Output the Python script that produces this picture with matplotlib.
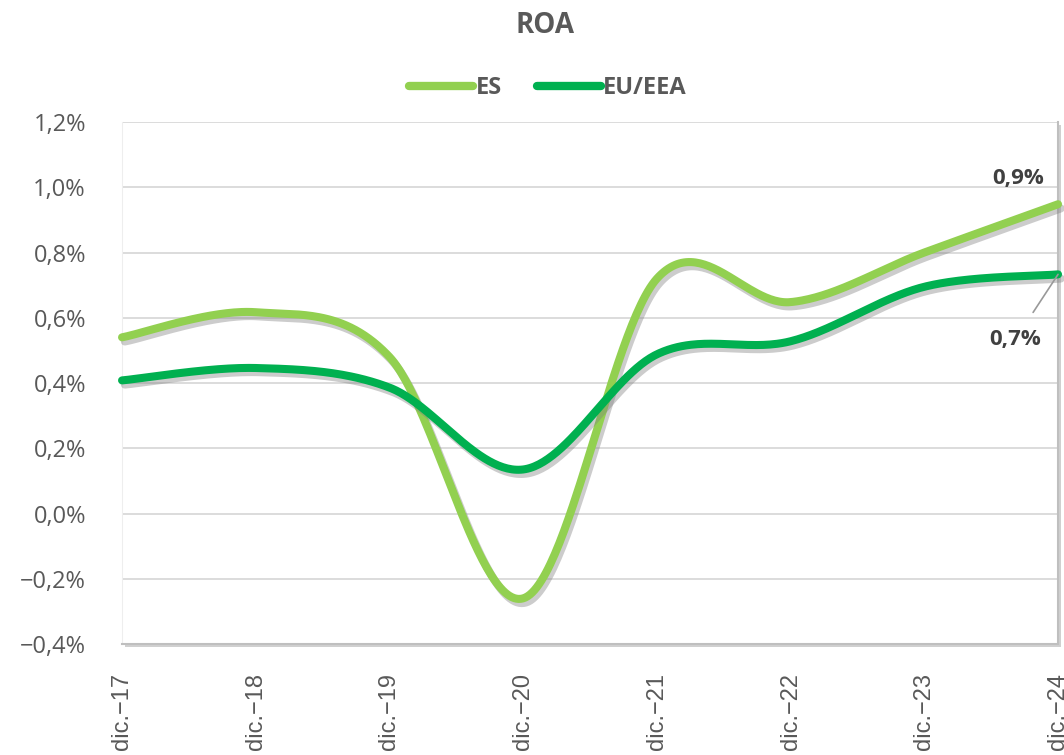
import matplotlib
matplotlib.use("Agg")
import matplotlib.pyplot as plt
import matplotlib.patheffects as pe
from matplotlib.lines import Line2D
from matplotlib.patches import Rectangle
import numpy as np

labels = ["dic.\u221217", "dic.\u221218", "dic.\u221219", "dic.\u221220",
          "dic.\u221221", "dic.\u221222", "dic.\u221223", "dic.\u221224"]
es = [0.54, 0.617, 0.48, -0.26, 0.72, 0.648, 0.80, 0.948]
eu = [0.408, 0.446, 0.386, 0.135, 0.488, 0.528, 0.695, 0.733]

grey = "#595959"
dark = "#404040"
c_es = "#92D050"
c_eu = "#00B050"


def smooth(y, n=60):
    # excel-like smoothed line (bezier through the points)
    y = np.asarray(y, float)
    x = np.arange(len(y), dtype=float)
    xs, ys = [], []
    for i in range(len(y) - 1):
        a = i - 1 if i > 0 else i
        b = i + 2 if i + 2 < len(y) else i + 1
        px = [x[i], x[i] + (x[i + 1] - x[a]) / 6, x[i + 1] - (x[b] - x[i]) / 6, x[i + 1]]
        py = [y[i], y[i] + (y[i + 1] - y[a]) / 6, y[i + 1] - (y[b] - y[i]) / 6, y[i + 1]]
        t = np.linspace(0, 1, n)
        k = [(1 - t) ** 3, 3 * (1 - t) ** 2 * t, 3 * (1 - t) * t ** 2, t ** 3]
        xs.append(sum(k[j] * px[j] for j in range(4)))
        ys.append(sum(k[j] * py[j] for j in range(4)))
    return np.concatenate(xs), np.concatenate(ys)


fig = plt.figure(figsize=(10.64, 7.55), dpi=100)
fig.patch.set_facecolor("white")
pos = [0.1147, 0.147, 0.8797, 0.6914]

# shadow of the plot area, drawn under the axes
sh = fig.add_axes([pos[0] + 0.0025, pos[1] - 0.004, pos[2], pos[3]])
sh.set_zorder(0)
sh.axis("off")
sh.add_patch(Rectangle((0, 0), 1, 1, transform=sh.transAxes, facecolor="#d0d0d0",
                       edgecolor="none"))

ax = fig.add_axes(pos)
ax.set_zorder(1)
ax.set_facecolor("white")

shadow = [pe.SimpleLineShadow(offset=(2, -3), shadow_color="#808080", alpha=0.4), pe.Normal()]
for vals, col in [(es, c_es), (eu, c_eu)]:
    sx, sy = smooth(vals)
    ax.plot(sx, sy, color=col, lw=5.8, solid_capstyle="round", zorder=3,
            path_effects=shadow, clip_on=False)

ax.set_xlim(0, len(labels) - 1)
ax.set_ylim(-0.4, 1.2)
yt = np.arange(-0.4, 1.21, 0.2)
ax.set_yticks(yt)
ax.set_yticklabels([("%.1f%%" % v).replace(".", ",").replace("-", "\u2212") for v in yt],
                   fontsize=17, color=grey, family="Open Sans")
ax.set_xticks(range(len(labels)))
ax.set_xticklabels(labels, rotation=90, fontsize=17, color=grey, family="Liberation Sans",
                   va="top")
ax.tick_params(length=0)
ax.tick_params(axis="y", pad=26)
ax.tick_params(axis="x", pad=21)
ax.grid(axis="y", color="#d9d9d9", lw=1.3)
ax.set_axisbelow(True)
ax.spines["top"].set_visible(False)
ax.spines["left"].set_color("#eeeeee")
ax.spines["right"].set_color("#bfbfbf")
ax.spines["bottom"].set_color("#bfbfbf")
ax.spines["right"].set_linewidth(1.5)
ax.spines["bottom"].set_linewidth(1.5)

# end labels
n = len(labels) - 1
ax.text(n - 0.30, es[-1] + 0.08, ("%.1f%%" % es[-1]).replace(".", ","), fontsize=16,
        fontweight="bold", color=dark, family="Open Sans", ha="center", va="center")
ax.annotate(("%.1f%%" % eu[-1]).replace(".", ","), xy=(n, eu[-1]), xytext=(n - 0.32, eu[-1] - 0.20),
            fontsize=16, fontweight="bold", color=dark, family="Open Sans",
            ha="center", va="center",
            arrowprops=dict(arrowstyle="-", color="#999999", lw=1.2, shrinkA=12, shrinkB=0))

fig.text(0.512, 0.966, "ROA", fontsize=20, fontweight="bold", color=grey,
         family="Open Sans", ha="center", va="center")

handles = [Line2D([], [], color=c_es, lw=6, solid_capstyle="round"),
           Line2D([], [], color=c_eu, lw=6, solid_capstyle="round")]
fig.legend(handles, ["ES", "EU/EEA"], loc="center", bbox_to_anchor=(0.515, 0.883), ncol=2,
           frameon=False, handlelength=2.7, handletextpad=0.1, columnspacing=1.5,
           prop={"family": "Open Sans", "weight": "bold", "size": 17}, labelcolor=grey)

fig.savefig("out.png", dpi=100, facecolor="white")
